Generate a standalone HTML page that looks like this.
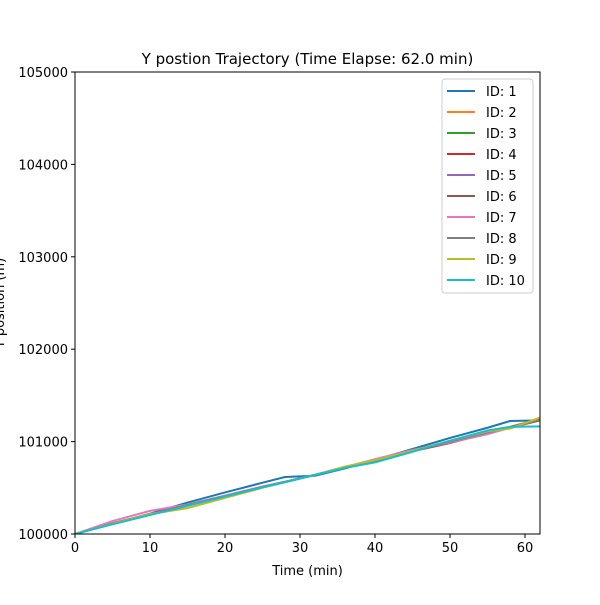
<!DOCTYPE html>
<html><head><meta charset="utf-8"><style>
body{margin:0;background:#fff;}
svg text{font-family:"DejaVu Sans","Liberation Sans",sans-serif;fill:#000;}
</style></head><body>
<svg id="c" width="600" height="600" xmlns="http://www.w3.org/2000/svg"></svg>
<script>
const times=[0,5,10,15,20,25,28,32,36,40,45,50,55,58,62];
const seriesNames=["ID: 1","ID: 2","ID: 3","ID: 4","ID: 5","ID: 6","ID: 7","ID: 8","ID: 9","ID: 10"];
const s1=[100000,100110,100220,100340,100450,100555,100617,100630,100710,100800,100920,101040,101150,101223,101230];
const s2=[100000,100115,100215,100315,100410,100510,100565,100640,100720,100795,100900,101005,101100,101160,101245];
const s3=[100000,100112,100212,100312,100408,100508,100563,100638,100722,100792,100898,101000,101102,101158,101240];
const s4=[100000,100115,100215,100315,100410,100510,100565,100640,100722,100800,100895,100985,101090,101150,101235];
const s5=[100000,100113,100213,100313,100408,100508,100563,100638,100720,100795,100900,100995,101095,101152,101230];
const s6=[100000,100114,100214,100314,100410,100510,100565,100640,100720,100797,100902,100990,101085,101150,101230];
const s7=[100000,100140,100250,100320,100415,100515,100565,100640,100725,100810,100910,100990,101080,101150,101240];
const s8=[100000,100114,100214,100314,100410,100510,100565,100640,100720,100795,100900,101000,101100,101155,101240];
const s9=[100000,100110,100215,100280,100390,100500,100560,100640,100730,100800,100900,101010,101110,101140,101260];
const s10=[100000,100105,100205,100305,100405,100505,100560,100640,100715,100775,100890,101010,101120,101160,101165];
const allSeries=[s1,s2,s3,s4,s5,s6,s7,s8,s9,s10];
const colors=["#1f77b4","#ff7f0e","#2ca02c","#d62728","#9467bd","#8c564b","#e377c2","#7f7f7f","#bcbd22","#17becf"];
const xTicks=[0,10,20,30,40,50,60];
const yTicks=[100000,101000,102000,103000,104000,105000];
const L=75,R=540,T=72,B=534,X0=0,X1=62,Y0=100000,Y1=105000;
const xs=v=>L+(v-X0)/(X1-X0)*(R-L);
const ys=v=>B-(v-Y0)/(Y1-Y0)*(B-T);
const svg=document.getElementById('c');const NS="http://www.w3.org/2000/svg";
function mk(t,a,p){const e=document.createElementNS(NS,t);for(const k in a)e.setAttribute(k,a[k]);(p||svg).appendChild(e);return e;}
const clip=mk('clipPath',{id:'pc'});mk('rect',{x:L,y:T,width:R-L,height:B-T},clip);
allSeries.forEach((s,i)=>{
 const p=mk('polyline',{points:s.map((v,j)=>xs(times[j])+','+ys(v)).join(' '),fill:'none',stroke:colors[i],'stroke-width':2,'clip-path':'url(#pc)'});
 
 
});
const fr=mk('rect',{x:L,y:T,width:R-L,height:B-T,fill:'none',stroke:'#000','stroke-width':1});


xTicks.forEach(v=>{const x=xs(v);mk('line',{x1:x,x2:x,y1:B,y2:B+4,stroke:'#000'});
 const t=mk('text',{x:x,y:B+18,'text-anchor':'middle','font-size':13});t.textContent=v;
 
 });
yTicks.forEach(v=>{const y=ys(v);mk('line',{x1:L-4,x2:L,y1:y,y2:y,stroke:'#000'});
 const t=mk('text',{x:L-7,y:y+5,'text-anchor':'end','font-size':13});t.textContent=v;
 
 });
const tt=mk('text',{x:307.5,y:64,'text-anchor':'middle','font-size':15});tt.textContent='Y postion Trajectory (Time Elapse: 62.0 min)';


const xl=mk('text',{x:307.5,y:575,'text-anchor':'middle','font-size':13});xl.textContent='Time (min)';


const yl=mk('text',{x:0,y:0,'text-anchor':'middle','font-size':13,transform:'translate(4,303) rotate(-90)'});yl.textContent='Y position (m)';


const lg=mk('g',{});


mk('rect',{x:442,y:79,width:91,height:214,rx:3,fill:'#fff',stroke:'#ccc'},lg);
seriesNames.forEach((n,i)=>{const y=91+i*21;
 const e=mk('g',{},lg);
 
 
 mk('line',{x1:447,x2:475,y1:y,y2:y,stroke:colors[i],'stroke-width':2},e);
 const t=mk('text',{x:486,y:y+5,'font-size':13},e);t.textContent=n;});
</script>
</body></html>
